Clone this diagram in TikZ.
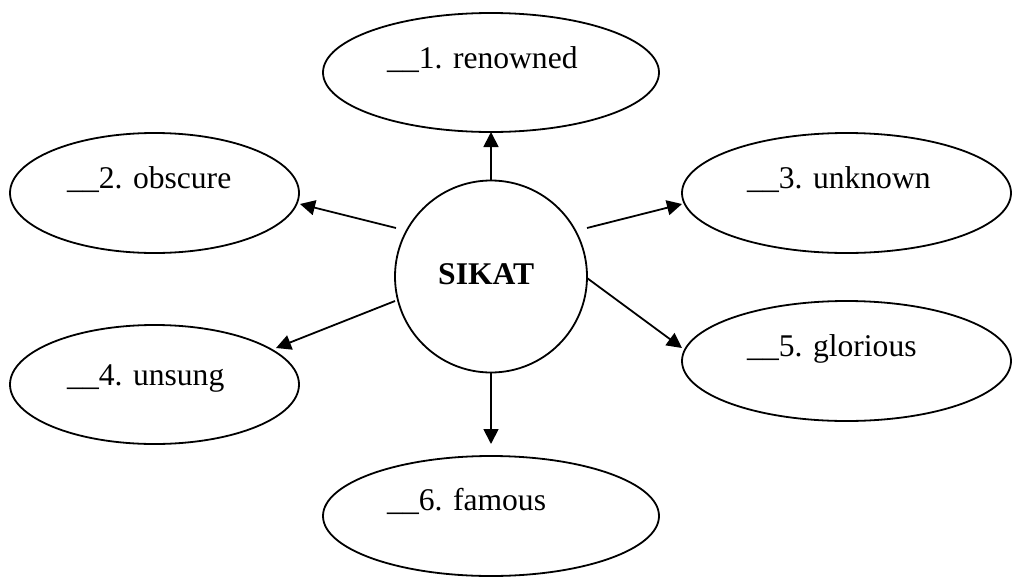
\documentclass[tikz,border=0pt]{standalone}
\usepackage{fontspec}
\setmainfont{Liberation Serif}
\usetikzlibrary{shapes.geometric,arrows.meta}
\begin{document}
\begin{tikzpicture}[x=1pt,y=-1pt,
  bub/.style={draw,ellipse,line width=1.8pt,inner sep=0pt,outer sep=0pt},
  lbl/.style={anchor=base west,inner sep=0pt,font=\fontsize{31.6}{36}\selectfont},
  arr/.style={line width=1.8pt,-{Triangle[length=15pt,width=15pt]}}]
\useasboundingbox (0,0) rectangle (1012,576);
% central circle
\node[draw,circle,line width=1.8pt,minimum size=192pt,inner sep=0pt] (c) at (491,276.5) {};
\node[lbl,font=\fontsize{31.6}{36}\selectfont\bfseries] (ct) at (438,284) {SIKAT};
% ellipses
\node[bub,minimum width=336pt,minimum height=119pt] (e1) at (491,72.5) {};
\node[bub,minimum width=289pt,minimum height=120pt] (e2) at (154.5,193) {};
\node[bub,minimum width=329pt,minimum height=120pt] (e3) at (846.5,193) {};
\node[bub,minimum width=289pt,minimum height=119pt] (e4) at (154.5,384.5) {};
\node[bub,minimum width=329pt,minimum height=120pt] (e5) at (846.5,361) {};
\node[bub,minimum width=336pt,minimum height=120pt] (e6) at (491,516) {};
% labels
\node[lbl] (t1) at (387,68) {\_\_1. renowned};
\node[lbl] (t2) at (67,188) {\_\_2. obscure};
\node[lbl] (t3) at (747,188) {\_\_3. unknown};
\node[lbl] (t4) at (67,385) {\_\_4. unsung};
\node[lbl] (t5) at (747,356) {\_\_5. glorious};
\node[lbl] (t6) at (387,510) {\_\_6. famous};
% arrow end points
\coordinate (s2) at (396,228); \coordinate (p2) at (300,204);
\coordinate (s4) at (395,301); \coordinate (p4) at (276,348);
\coordinate (s3) at (587,228); \coordinate (p3) at (682,204);
\coordinate (s5) at (587,278); \coordinate (p5) at (682,348);
\coordinate (p6) at (491,444);
% arrows
\draw[arr] (c.north) -- (e1.south);
\draw[arr] (s2) -- (p2);
\draw[arr] (s3) -- (p3);
\draw[arr] (s4) -- (p4);
\draw[arr] (s5) -- (p5);
\draw[arr] (c.south) -- (p6);
\end{tikzpicture}
\end{document}
